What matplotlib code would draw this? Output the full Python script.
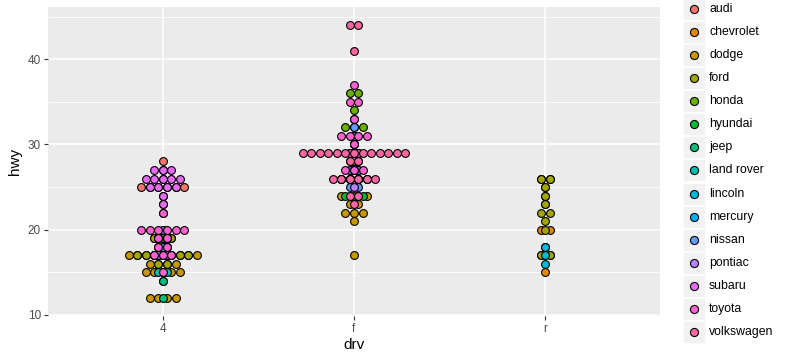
import numpy as np
import matplotlib
matplotlib.use("Agg")
from matplotlib import pyplot as plt
from matplotlib.patches import Rectangle
from matplotlib.lines import Line2D

plt.rcParams['font.family'] = ['Liberation Sans', 'DejaVu Sans']

manufacturers = ['audi', 'chevrolet', 'dodge', 'ford', 'honda', 'hyundai', 'jeep',
                 'land rover', 'lincoln', 'mercury', 'nissan', 'pontiac', 'subaru',
                 'toyota', 'volkswagen']
colors = ['#F8766D', '#E58700', '#C99800', '#A3A500', '#6BB100', '#00BA38', '#00BF7D',
          '#00C0AF', '#00BCD8', '#00B0F6', '#619CFF', '#B983FF', '#E76BF3', '#FD61D1',
          '#FF67A4']
drv_levels = ['4', 'f', 'r']

# hwy values per manufacturer, one dict per drive type
hwy_4 = {
    'audi': [26, 25, 28, 27, 25, 25, 25, 25, 24, 25, 23],
    'chevrolet': [19, 14, 15, 17],
    'dodge': [19, 18, 17, 17, 19, 19, 12, 15, 15, 17, 17, 12, 17, 16, 18, 15,
              16, 12, 17, 17, 16, 12, 15, 16, 17, 15, 17],
    'ford': [17, 19, 17, 19, 19, 17, 17, 17, 16, 16, 17, 15, 17],
    'jeep': [22, 19, 20, 17, 19, 12, 18, 14],
    'land rover': [15, 18, 18, 15],
    'mercury': [17, 19, 19, 17],
    'nissan': [17, 17, 20, 18],
    'subaru': [25, 24, 27, 25, 26, 23, 26, 26, 26, 26, 25, 27, 25, 27],
    'toyota': [20, 20, 19, 17, 20, 17, 15, 18, 20, 20, 22, 17, 19, 18, 20],
}
hwy_f = {
    'audi': [29, 29, 31, 30, 26, 26, 27],
    'chevrolet': [27, 30, 26, 29, 26],
    'dodge': [24, 24, 22, 22, 24, 24, 17, 22, 21, 23, 23],
    'honda': [33, 32, 32, 29, 32, 34, 36, 36, 29],
    'hyundai': [26, 27, 30, 31, 26, 26, 28, 26, 29, 28, 27, 24, 24, 24],
    'nissan': [29, 27, 31, 32, 27, 26, 26, 25, 25],
    'pontiac': [26, 26, 27, 28, 25],
    'toyota': [29, 27, 31, 31, 26, 26, 28, 27, 29, 31, 31, 26, 26, 27,
               30, 33, 35, 37, 35],
    'volkswagen': [29, 26, 29, 29, 24, 44, 29, 26, 29, 29, 29, 29, 23, 24,
                   44, 41, 29, 26, 28, 29, 29, 29, 28, 29, 26, 26, 26],
}
hwy_r = {
    'chevrolet': [20, 15, 20, 17, 17, 26, 23, 26, 25, 24],
    'ford': [17, 17, 18, 26, 25, 26, 24, 21, 22, 23, 22, 20],
    'lincoln': [17, 16, 18],
}
hwy_by_drv = [hwy_4, hwy_f, hwy_r]

binwidth = 1.0
W, H = 785, 356
fig = plt.figure(figsize=(W / 100, H / 100), dpi=100)
ax_l, ax_r, ax_t, ax_b = 48, 660, 7, 316
ax = fig.add_axes([ax_l / W, 1 - ax_b / H, (ax_r - ax_l) / W, (ax_b - ax_t) / H])
ylo, yhi = 11.5 - 0.05 * 33, 44.5 + 0.05 * 33
xlo, xhi = 0.4, 3.6
ax.set_xlim(xlo, xhi)
ax.set_ylim(ylo, yhi)

# one dot diameter (binwidth in y units) expressed in x units
px_per_y = (ax_b - ax_t) / (yhi - ylo)
px_per_x = (ax_r - ax_l) / (xhi - xlo)
dot_dx = binwidth * px_per_y / px_per_x
dot_pt = binwidth * px_per_y * 0.72

ax.set_facecolor('#EBEBEB')
for y in [15, 25, 35, 45]:
    ax.axhline(y, color='white', lw=0.55, zorder=0)
for y in [10, 20, 30, 40]:
    ax.axhline(y, color='white', lw=1.1, zorder=0)
for x in [1, 2, 3]:
    ax.axvline(x, color='white', lw=1.1, zorder=0)

# dotplot: bin each group along y, stack centred, groups drawn in order
for xi, groups in enumerate(hwy_by_drv):
    for m, col in zip(manufacturers, colors):
        if m not in groups:
            continue
        vals = np.sort(np.array(groups[m], dtype=float))
        bins = []
        binend = -np.inf
        for v in vals:
            if v >= binend:
                bins.append([v])
                binend = v + binwidth
            else:
                bins[-1].append(v)
        xs, ys = [], []
        for b in bins:
            n = len(b)
            center = (min(b) + max(b)) / 2
            for k in range(n):
                xs.append(xi + 1 + (k - (n - 1) / 2) * dot_dx)
                ys.append(center)
        ax.scatter(xs, ys, s=(dot_pt - 0.5) ** 2, c=col, edgecolors='black',
                   linewidths=0.8, zorder=3)

ax.set_xticks([1, 2, 3])
ax.set_xticklabels(drv_levels)
ax.set_yticks([10, 20, 30, 40])
for s in ax.spines.values():
    s.set_visible(False)
ax.tick_params(axis='both', length=3, width=0.8, color='#333333',
               labelcolor='#4D4D4D', labelsize=8.5, pad=2)
ax.set_xlabel('drv', fontsize=11, labelpad=2)
ax.set_ylabel('hwy', fontsize=11, labelpad=4)

# legend
key_x0, key_w, key_h, step, first = 683, 22, 22, 23.07, 9
for i, (m, col) in enumerate(zip(manufacturers, colors)):
    cy = first + i * step
    fig.add_artist(Rectangle((key_x0 / W, 1 - (cy + key_h / 2) / H), key_w / W, key_h / H,
                             transform=fig.transFigure, facecolor='#F2F2F2',
                             edgecolor='white', lw=0.5))
    fig.add_artist(Line2D([(key_x0 + key_w / 2) / W], [1 - cy / H], transform=fig.transFigure,
                          marker='o', markersize=dot_pt - 0.3, markerfacecolor=col,
                          markeredgecolor='black', markeredgewidth=0.8, linestyle='none'))
    fig.text(709 / W, 1 - cy / H, m, fontsize=8.8, va='center', ha='left', color='black')

fig.savefig('out.png', dpi=100, facecolor='white')
